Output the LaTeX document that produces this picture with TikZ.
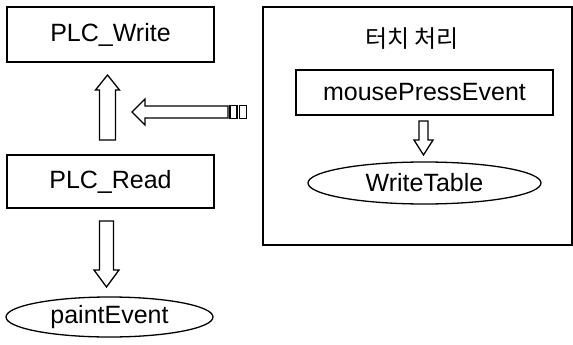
\documentclass[tikz,border=0pt]{standalone}
\usepackage{fontspec}
\setmainfont{Liberation Sans}
\newfontfamily\kr{Noto Sans CJK KR}
\usetikzlibrary{shapes.geometric}

\tikzset{
  box/.style={draw, line width=1.6pt, rectangle, inner sep=0pt, outer sep=0pt,
              font=\fontsize{25}{28}\selectfont},
  oval/.style={draw, line width=1.3pt, ellipse, inner sep=0pt, outer sep=0pt,
               font=\fontsize{25}{28}\selectfont},
  frame/.style={draw, line width=1.6pt, rectangle, inner sep=0pt, outer sep=0pt},
  title/.style={inner sep=0pt, font=\kr\fontsize{24}{28}\selectfont},
  blockarrow/.style={draw, fill=white, line width=1.3pt, line join=miter},
}

\begin{document}
\begin{tikzpicture}[x=1pt, y=-1pt]
  \useasboundingbox (0,0) rectangle (573,345);

  % left column
  \node[box, minimum width=207pt, minimum height=55pt] (write) at (110.5,34.5) {PLC\_Write};
  \node[box, minimum width=207pt, minimum height=53pt] (read)  at (110.5,181.5) {PLC\_Read};
  \node[oval, minimum width=207pt, minimum height=40pt] (paint) at (109.5,317) {paintEvent};

  % touch handling group
  \node[frame, minimum width=309pt, minimum height=238pt] (touch) at (417.5,126) {};
  \node[title] (ttl) at (412,39) {터치 처리};
  \node[box, minimum width=257pt, minimum height=45pt] (press) at (424.5,92.5) {mousePressEvent};
  \node[oval, minimum width=233pt, minimum height=42pt] (wt) at (424.5,183) {WriteTable};

  % end points of the hollow arrows
  \coordinate (upA) at (107.5,140);
  \coordinate (upB) at (107.5,75);
  \coordinate (dnA) at (106.5,221);
  \coordinate (dnB) at (106.5,287);
  \coordinate (lfA) at (228,112);
  \coordinate (lfB) at (132,112);
  \coordinate (smA) at (423.5,121);
  \coordinate (smB) at (423.5,155);

  % read -> write
  \draw[blockarrow] (upA) ++(-8,0) -- ++(0,-50) -- ++(-4,0) -- (upB)
        -- ++(12,15) -- ++(-4,0) -- ++(0,50) -- cycle;
  % read -> paintEvent
  \draw[blockarrow] (dnA) ++(-7,0) -- ++(0,49) -- ++(-5.5,0) -- (dnB)
        -- ++(12.5,-17) -- ++(-5.5,0) -- ++(0,-49) -- cycle;
  % touch handling -> write
  \draw[blockarrow] (lfA) ++(0,-6) -- ++(-83,0) -- ++(0,-7) -- (lfB)
        -- ++(13,13) -- ++(0,-7) -- ++(83,0) -- cycle;
  \draw[blockarrow] (230,105.5) rectangle (237,118.5);
  \draw[blockarrow] (239.5,105.5) rectangle (246.5,118.5);
  % mousePressEvent -> WriteTable
  \draw[blockarrow] (smA) ++(-4.5,0) -- ++(0,19) -- ++(-5,0) -- (smB)
        -- ++(9.5,-15) -- ++(-5,0) -- ++(0,-19) -- cycle;
\end{tikzpicture}
\end{document}
